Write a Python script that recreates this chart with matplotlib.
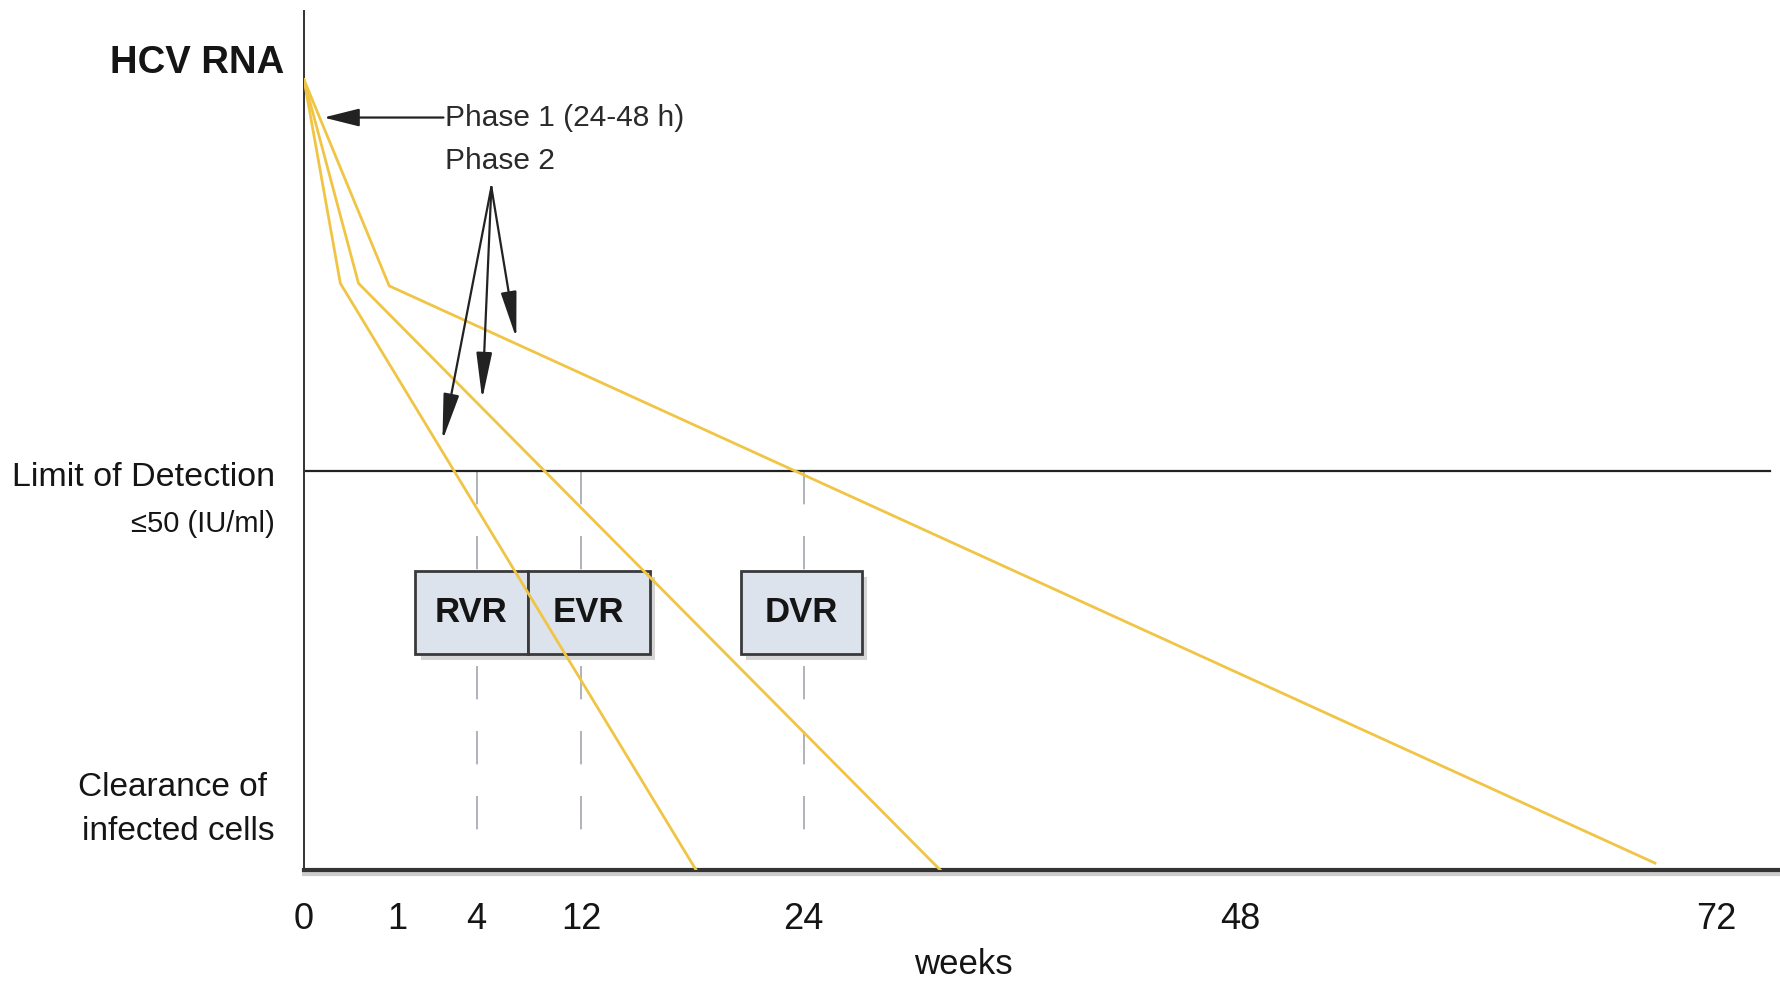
"""Schematic of HCV RNA decline phases and virological response milestones."""
import numpy as np
import matplotlib

matplotlib.use("Agg")
import matplotlib.patches as mpatches
import matplotlib.patheffects as pe
import matplotlib.pyplot as plt

plt.rcParams["font.family"] = ["Liberation Sans", "DejaVu Sans"]

# Decline curves: common start, end of phase 1 (kink), clearance point.
START_WEEK = 0.0
START_LEVEL = 9.2
KINK_WEEKS = [0.39, 0.585, 0.915]
KINK_LEVELS = [6.83, 6.83, 6.80]
END_WEEKS = [18.2, 31.5, 68.9]
END_LEVELS = [0.0, 0.0, 0.08]

LOD_LEVEL = 4.64
LOD_END_WEEK = 74.7

TICK_WEEKS = [0, 1, 4, 12, 24, 48, 72]
MILESTONE_WEEKS = [4, 12, 24]
MILESTONE_LABELS = ["RVR", "EVR", "DVR"]
BOX_LEFT = [1.69, 7.9, 20.6]
BOX_RIGHT = [7.9, 15.7, 27.2]
BOX_BOTTOM = 2.51
BOX_TOP = 3.48

# Phase 2 arrows point at the second-phase slope of each curve.
PHASE2_TIPS_WEEKS = [2.71, 4.43, 7.04]
PHASE2_TIPS_LEVELS = [5.0, 5.48, 6.19]

# The week axis is schematic: piecewise linear between these knots.
KNOT_WEEKS = [0, 1, 4, 12, 24, 48, 72, 75.2]
KNOT_POS = [0, 82, 152, 244, 440, 825, 1244, 1300]

LINE_COLOR = "#f0c545"
DARK = "#222222"
TEXT = "#151515"


def forward(w):
    return np.interp(w, KNOT_WEEKS, KNOT_POS)


def inverse(p):
    return np.interp(p, KNOT_POS, KNOT_WEEKS)


fig = plt.figure(figsize=(17.8, 9.85), dpi=100)
ax = fig.add_axes([0.1708, 0.1168, 0.8292, 0.872])
ax.set_xscale("function", functions=(forward, inverse))
ax.set_xlim(0, 75.2)
ax.set_ylim(0, 10)

for kw, kl, ew, el in zip(KINK_WEEKS, KINK_LEVELS, END_WEEKS, END_LEVELS):
    ax.plot([START_WEEK, kw, ew], [START_LEVEL, kl, el],
            color=LINE_COLOR, lw=2.0, solid_joinstyle="miter", zorder=3)

# Limit of detection.
ax.plot([0, LOD_END_WEEK], [LOD_LEVEL, LOD_LEVEL], color=DARK, lw=1.6, zorder=2)

# Milestone guides.
for w in MILESTONE_WEEKS:
    ax.plot([w, w], [LOD_LEVEL, 0.2], color="#a2a6ae", lw=1.2,
            dashes=(20, 19), zorder=1)

# Response boxes.
shadow = [pe.SimplePatchShadow(offset=(4, -4), shadow_rgbFace="#888888", alpha=0.35),
          pe.Normal()]
for label, left, right in zip(MILESTONE_LABELS, BOX_LEFT, BOX_RIGHT):
    rect = mpatches.Rectangle((left, BOX_BOTTOM), right - left, BOX_TOP - BOX_BOTTOM,
                              facecolor="#dde3ec", edgecolor="#3a3a3a", lw=2.0,
                              zorder=2)
    rect.set_path_effects(shadow)
    ax.add_patch(rect)
    cx = inverse((forward(left) + forward(right)) / 2)
    ax.text(cx, (BOX_BOTTOM + BOX_TOP) / 2, label, ha="center", va="center",
            fontsize=25, fontweight="bold", color=TEXT, zorder=4)

# Phase annotations.
ax.annotate("", xy=(0.21, 8.76), xytext=(2.75, 8.76),
            arrowprops=dict(arrowstyle="-|>,head_length=1.0,head_width=0.25",
                            color=DARK, lw=1.6, shrinkA=0, shrinkB=0,
                            mutation_scale=22), zorder=5)
ax.text(2.8, 8.76, "Phase 1 (24-48 h)", ha="left", va="center",
        fontsize=21.5, color="#2a2a2a")
ax.text(2.8, 8.25, "Phase 2", ha="left", va="center",
        fontsize=21.5, color="#2a2a2a")
for tw, tl in zip(PHASE2_TIPS_WEEKS, PHASE2_TIPS_LEVELS):
    ax.annotate("", xy=(tw, tl), xytext=(5.13, 7.95),
                arrowprops=dict(arrowstyle="-|>,head_length=1.3,head_width=0.22",
                                color=DARK, lw=1.6, shrinkA=0, shrinkB=0,
                                mutation_scale=22), zorder=5)

# Axes styling.
for side in ("top", "right"):
    ax.spines[side].set_visible(False)
ax.spines["left"].set_color("#333333")
ax.spines["left"].set_linewidth(1.4)
ax.spines["bottom"].set_color("#333333")
ax.spines["bottom"].set_linewidth(3.0)
ax.spines["bottom"].set_path_effects(
    [pe.SimpleLineShadow(offset=(0, -3), shadow_color="#999999", alpha=0.5),
     pe.Normal()])
ax.set_yticks([])
ax.set_xticks(TICK_WEEKS)
ax.set_xticklabels([str(w) for w in TICK_WEEKS])
ax.tick_params(axis="x", length=0, pad=23, labelsize=26, labelcolor=TEXT)
ax.minorticks_off()

# Left-hand labels.
fig.text(284 / 1780, 1 - 63 / 985, "HCV RNA", ha="right", va="center",
         fontsize=27.5, fontweight="bold", color=TEXT)
fig.text(275 / 1780, 1 - 478 / 985, "Limit of Detection", ha="right", va="center",
         fontsize=24.5, color=TEXT)
fig.text(275 / 1780, 1 - 524 / 985, "≤50 (IU/ml)", ha="right", va="center",
         fontsize=21, color=TEXT)
fig.text(267 / 1780, 1 - 788 / 985, "Clearance of", ha="right", va="center",
         fontsize=24, color=TEXT)
fig.text(275 / 1780, 1 - 831 / 985, "infected cells", ha="right", va="center",
         fontsize=24, color=TEXT)
fig.text(963 / 1780, 1 - 965 / 985, "weeks", ha="center", va="center",
         fontsize=25, color=TEXT)

fig.savefig("out.png", dpi=100)
